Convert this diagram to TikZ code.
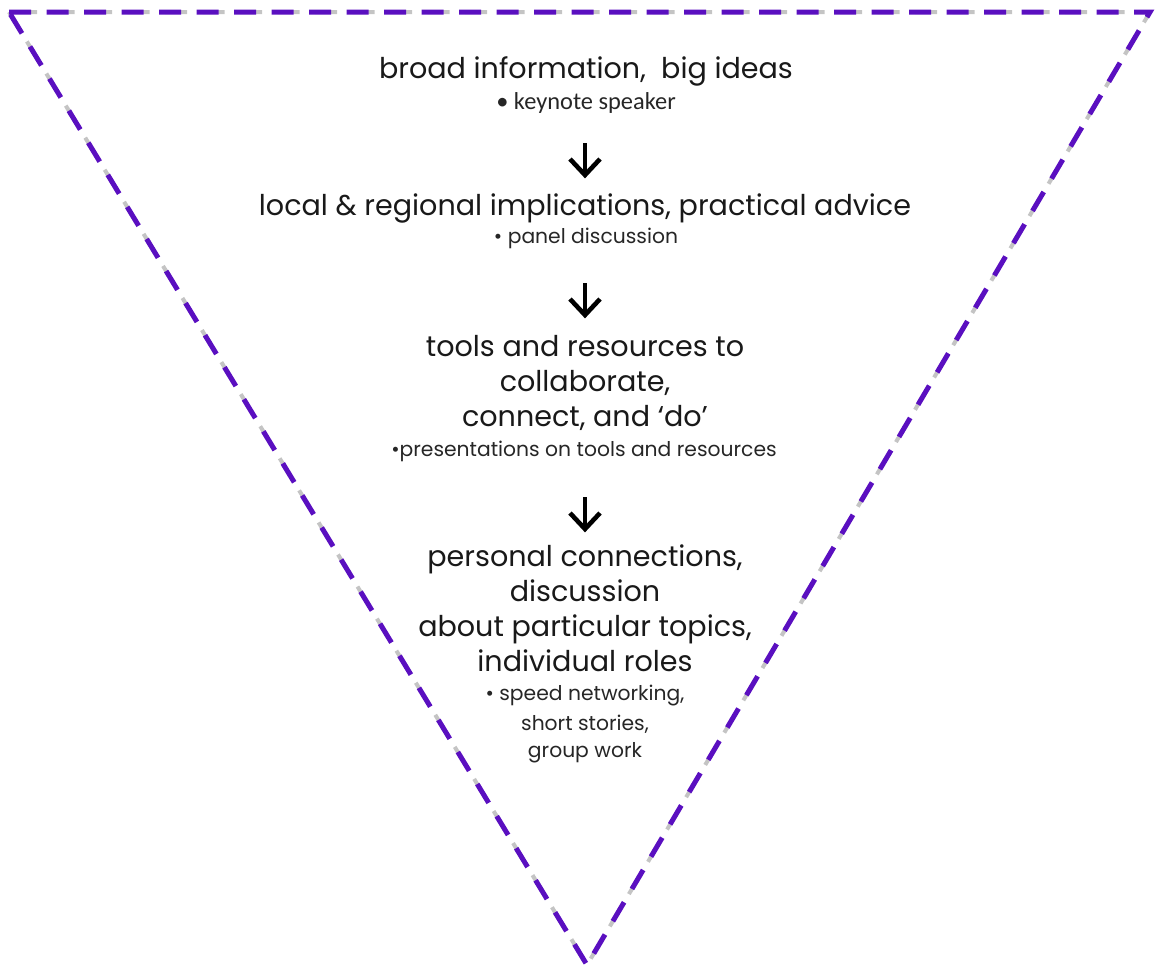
\documentclass[tikz,border=0pt]{standalone}
\usepackage{fontspec}
\setmainfont{Poppins}
\newfontfamily\calib{Carlito}
\definecolor{edgepurple}{HTML}{5A0FC0}
\definecolor{edgegray}{HTML}{C4C4C4}
\begin{document}
\begin{tikzpicture}[x=1pt,y=-1pt,
  big/.style={anchor=base,font=\fontsize{28.6}{32}\selectfont,text=black!90},
  small/.style={anchor=base,font=\fontsize{20.3}{24}\selectfont,text=black!85},
  arrowline/.style={line width=4.6pt,black},
  edge/.style={line width=5pt,edgepurple,dash pattern=on 22pt off 15.5pt},
  shadow/.style={line width=4pt,edgegray,dash pattern=on 22pt off 15.5pt,dash phase=-6pt}]
\useasboundingbox (0,0) rectangle (1156,970);
\coordinate (tl) at (9,12);
\coordinate (tr) at (1150,12);
\coordinate (bt) at (587,965);
\begin{scope}[shift={(4,4)}]
\draw[shadow] (tl) -- (tr) -- (bt) -- cycle;
\end{scope}
\draw[edge] (tl) -- (tr) -- (bt) -- cycle;

\node[big] (t1) at (586,78) {broad information,\ \ big ideas};
\node[small,font=\calib\fontsize{24.4}{28}\selectfont] (s1) at (586,109) {• keynote speaker};

\coordinate (a1t) at (585,143); \coordinate (a1b) at (585,175);
\coordinate (a1l) at (570,159); \coordinate (a1r) at (600,159);
\draw[arrowline] (a1t) -- (a1b);
\draw[arrowline,line join=miter] (a1l) -- (a1b) -- (a1r);

\node[big] (t2) at (585,215) {local \& regional implications, practical advice};
\node[small] (s2) at (586,243) {• panel discussion};

\coordinate (a2t) at (585,283); \coordinate (a2b) at (585,315);
\coordinate (a2l) at (570,299); \coordinate (a2r) at (600,299);
\draw[arrowline] (a2t) -- (a2b);
\draw[arrowline,line join=miter] (a2l) -- (a2b) -- (a2r);

\node[big] (t3a) at (585,356) {tools and resources to};
\node[big] (t3b) at (585,391) {collaborate,};
\node[big] (t3c) at (585,426) {connect, and ‘do’};
\node[small] (s3) at (584,456) {•presentations on tools and resources};

\coordinate (a3t) at (585,497); \coordinate (a3b) at (585,529);
\coordinate (a3l) at (570,513); \coordinate (a3r) at (600,513);
\draw[arrowline] (a3t) -- (a3b);
\draw[arrowline,line join=miter] (a3l) -- (a3b) -- (a3r);

\node[big] (t4a) at (585,566) {personal connections,};
\node[big] (t4b) at (585,601) {discussion};
\node[big] (t4c) at (585,636) {about particular topics,};
\node[big] (t4d) at (585,671) {individual roles};
\node[small] (s4a) at (585,700) {• speed networking,};
\node[small] (s4b) at (585,730) {short stories,};
\node[small] (s4c) at (585,757) {group work};
\end{tikzpicture}
\end{document}
